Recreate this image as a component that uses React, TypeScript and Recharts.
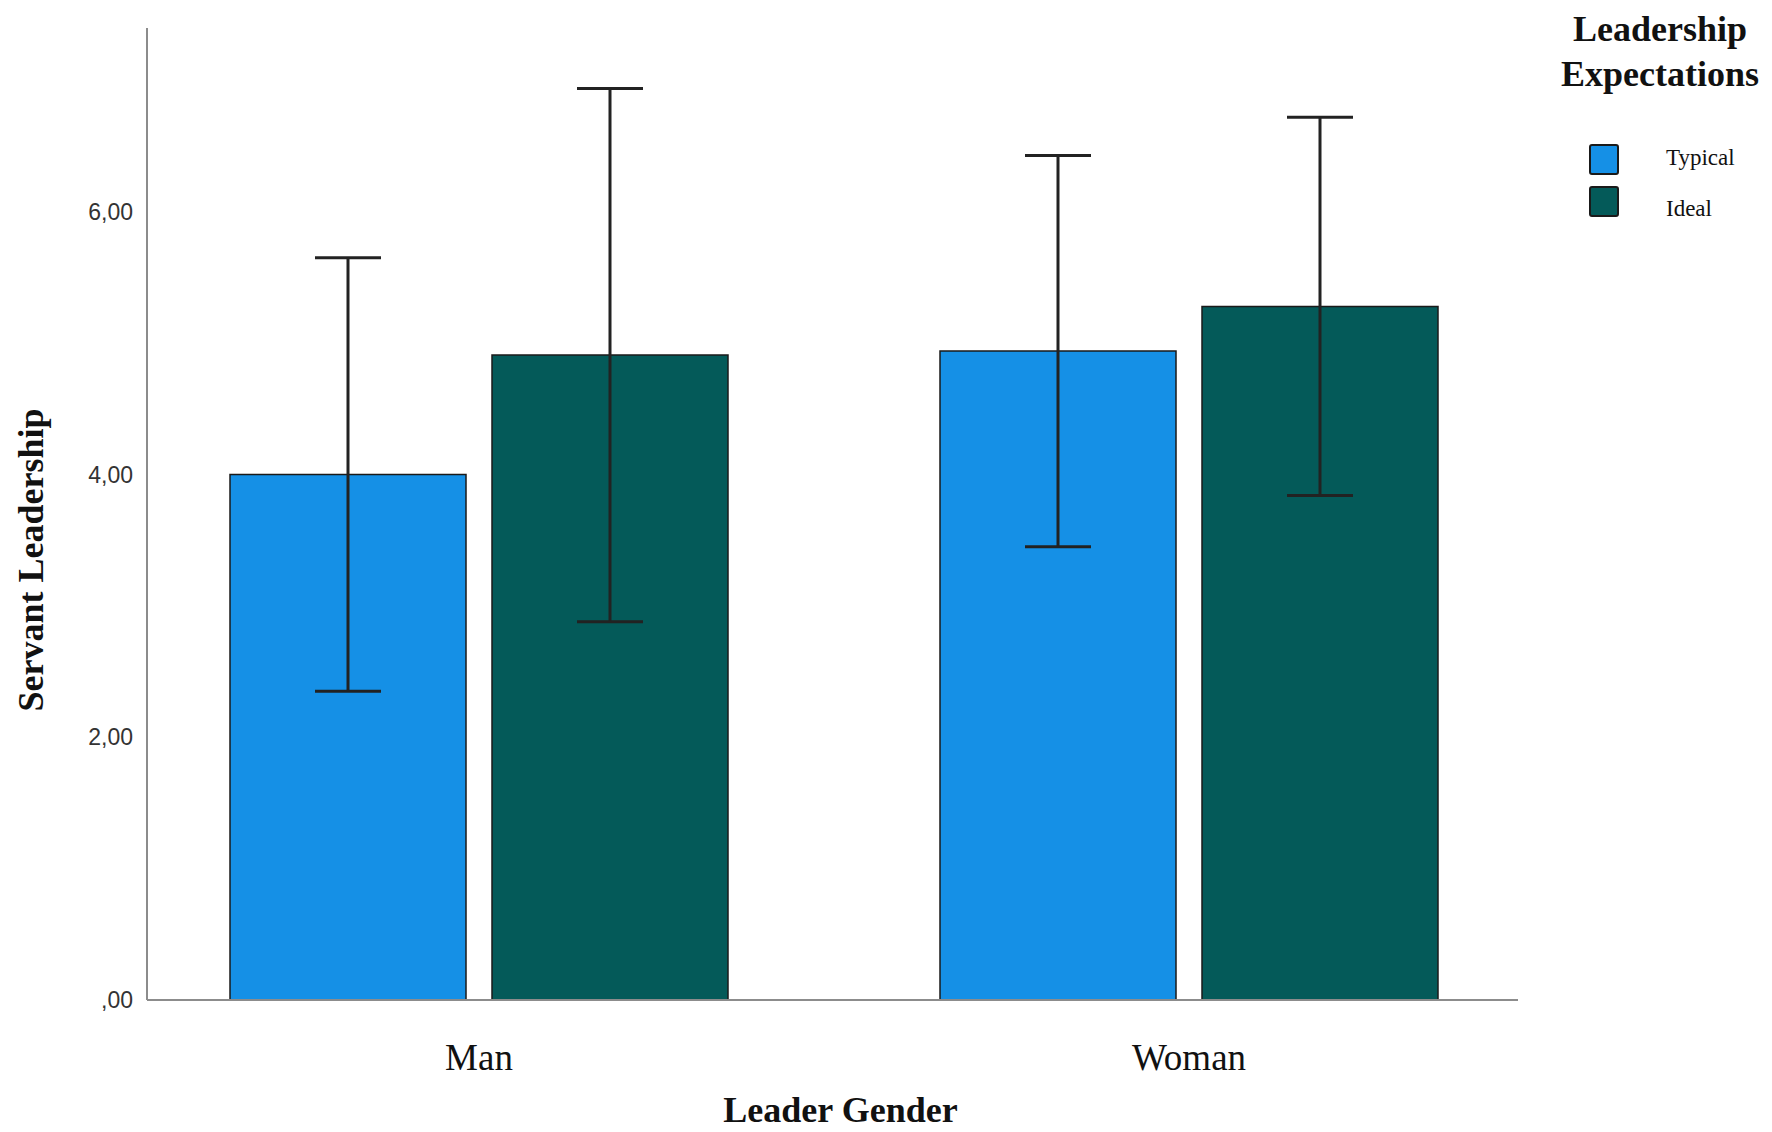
import React from 'react'
import { BarChart, Bar, XAxis, YAxis, ErrorBar, Legend } from 'recharts'

const categories = ['Man', 'Woman']
const typicalMeans = [4.0, 4.94]
const typicalErrors = [1.65, 1.49]
const idealMeans = [4.91, 5.28]
const idealErrors = [2.03, 1.44]
const seriesNames = ['Typical', 'Ideal']
const yTicks = [0, 2, 4, 6]

const data = categories.map((name, i) => ({
  name,
  typical: typicalMeans[i],
  typicalErr: typicalErrors[i],
  ideal: idealMeans[i],
  idealErr: idealErrors[i],
}))

const BLUE = '#1590e6'
const TEAL = '#045a59'
const SERIF = '"Liberation Serif", "Times New Roman", serif'
const SANS = '"Liberation Sans", Arial, sans-serif'

const formatTick = (v: number) => (v === 0 ? ',00' : v.toFixed(2).replace('.', ','))

const YTitle = (props: any) => {
  const vb = props.viewBox || {}
  const cx = vb.x + 31
  const cy = vb.y + vb.height / 2 + 46
  return (
    <text
      x={cx}
      y={cy}
      transform={`rotate(-90 ${cx} ${cy})`}
      textAnchor="middle"
      dominantBaseline="central"
      fontFamily={SERIF}
      fontWeight="bold"
      fontSize={36}
      fill="#111"
    >
      Servant Leadership
    </text>
  )
}

const LegendBox = (props: any) => {
  // keep the series order of the chart, not alphabetical
  const payload = [...(props.payload || [])].sort(
    (a: any, b: any) => seriesNames.indexOf(a.value) - seriesNames.indexOf(b.value)
  )
  return (
    <div style={{ position: 'relative', width: 260, height: 240, fontFamily: SERIF, color: '#111' }}>
      <div
        style={{
          position: 'absolute',
          top: 7,
          left: 0,
          width: 260,
          textAlign: 'center',
          fontWeight: 'bold',
          fontSize: 36,
          lineHeight: '45px',
        }}
      >
        Leadership
        <br />
        Expectations
      </div>
      {payload.map((entry: any, i: number) => (
        <React.Fragment key={entry.value}>
          <div
            style={{
              position: 'absolute',
              left: 59,
              top: 144 + i * 42,
              width: 26,
              height: 27,
              background: entry.color,
              border: '2px solid #1a1a1a',
              borderRadius: 3,
            }}
          />
          <div
            style={{
              position: 'absolute',
              left: 136,
              top: 158 + i * 51 - 14,
              fontSize: 23,
              lineHeight: '28px',
            }}
          >
            {entry.value}
          </div>
        </React.Fragment>
      ))}
    </div>
  )
}

export default function App() {
  return (
    <div style={{ position: 'absolute', left: 0, top: 0, width: 1772, height: 1132, background: '#fff' }}>
      <BarChart
        width={1772}
        height={1132}
        data={data}
        margin={{ top: 28, right: 254, left: 0, bottom: 0 }}
        barSize={236}
        barGap={26}
      >
        <XAxis
          dataKey="name"
          height={132}
          padding={{ left: -23, right: -26 }}
          axisLine={{ stroke: '#8c8c8c', strokeWidth: 2 }}
          tickLine={false}
          tickMargin={38}
          tick={{ fontFamily: SERIF, fontSize: 37, fill: '#111' }}
          label={{
            value: 'Leader Gender',
            position: 'insideBottom',
            offset: 10,
            dx: 8,
            fontFamily: SERIF,
            fontWeight: 'bold',
            fontSize: 36,
            fill: '#111',
          }}
        />
        <YAxis
          width={147}
          domain={[0, 7.4]}
          ticks={yTicks}
          tickFormatter={formatTick}
          axisLine={{ stroke: '#8c8c8c', strokeWidth: 2 }}
          tickLine={false}
          tickMargin={8}
          tick={{ fontFamily: SANS, fontSize: 23, fill: '#333' }}
          label={<YTitle />}
        />
        <Legend
          layout="vertical"
          align="center"
          verticalAlign="middle"
          wrapperStyle={{ position: 'absolute', left: 1530, top: 0, width: 260 }}
          content={<LegendBox />}
        />
        <Bar dataKey="typical" name={seriesNames[0]} fill={BLUE} stroke="#1a1a1a" strokeWidth={1.5} isAnimationActive={false}>
          <ErrorBar dataKey="typicalErr" width={33} strokeWidth={3} stroke="#222" isAnimationActive={false} />
        </Bar>
        <Bar dataKey="ideal" name={seriesNames[1]} fill={TEAL} stroke="#1a1a1a" strokeWidth={1.5} isAnimationActive={false}>
          <ErrorBar dataKey="idealErr" width={33} strokeWidth={3} stroke="#222" isAnimationActive={false} />
        </Bar>
      </BarChart>
    </div>
  )
}
